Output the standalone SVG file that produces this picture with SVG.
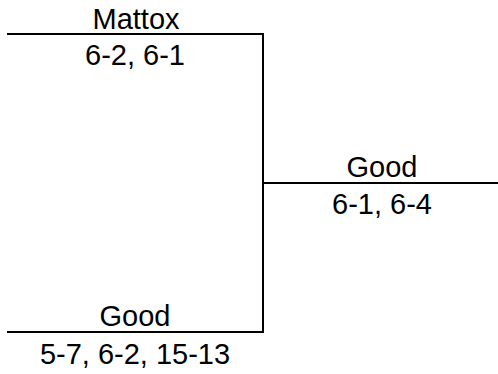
<svg xmlns="http://www.w3.org/2000/svg" width="498" height="374" viewBox="0 0 498 374">
<style>
.ln{stroke:#000;stroke-width:2;fill:none}
text{font-family:"Liberation Sans",Arial,sans-serif;font-size:29px;fill:#000;text-anchor:middle}
</style>
<rect width="498" height="374" fill="#fff"/>
<g id="connectors">
<path class="ln" d="M7,34 H263 V332 H7"/>
<path class="ln" d="M262,183 H498"/>
</g>
<g id="n1"><text x="136" y="29">Mattox</text><text x="135" y="65">6-2, 6-1</text></g>
<g id="n2"><text x="135" y="326">Good</text><text x="135" y="364">5-7, 6-2, 15-13</text></g>
<g id="n3"><text x="382" y="177">Good</text><text x="382" y="214">6-1, 6-4</text></g>
</svg>
